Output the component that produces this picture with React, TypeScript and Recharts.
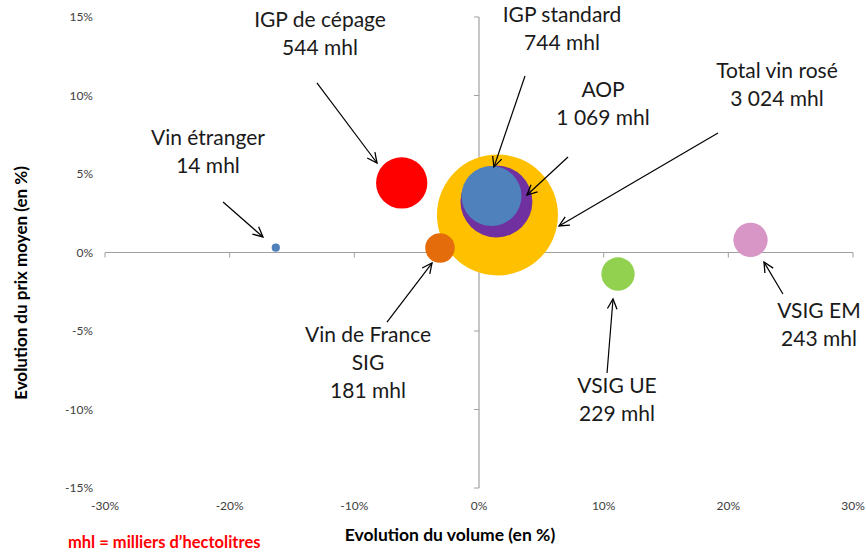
import React from 'react';
import {
  ScatterChart,
  Scatter,
  XAxis,
  YAxis,
  ZAxis,
  ReferenceLine,
  ReferenceDot,
} from 'recharts';

// ---- Data ----
const categories = [
  'Total vin rosé',
  'AOP',
  'IGP standard',
  'IGP de cépage',
  'Vin de France SIG',
  'Vin étranger',
  'VSIG UE',
  'VSIG EM',
];
const volumeEvolution = [1.48, 1.4, 1.0, -6.2, -3.13, -16.3, 11.15, 21.78];
const priceEvolution = [2.39, 3.25, 3.6, 4.43, 0.29, 0.31, -1.37, 0.8];
const volumesMhl = [3024, 1069, 744, 544, 181, 14, 229, 243];
const bubbleColors = ['#FFC000', '#7030A0', '#4F81BD', '#FF0000', '#E46C0A', '#4F81BD', '#92D050', '#D896C6'];

const xTicks = [-30, -20, -10, 0, 10, 20, 30];
const yTicks = [-15, -10, -5, 0, 5, 10, 15];

// annotation labels: text lines, anchor (centre x, first baseline) in data units
const labelLines = [
  ['Total vin rosé', '3 024 mhl'],
  ['AOP', '1 069 mhl'],
  ['IGP standard', '744 mhl'],
  ['IGP de cépage', '544 mhl'],
  ['Vin de France', 'SIG', '181 mhl'],
  ['Vin étranger', '14 mhl'],
  ['VSIG UE', '229 mhl'],
  ['VSIG EM', '243 mhl'],
];
const labelX = [23.9, 9.95, 6.66, -12.75, -8.9, -21.74, 11.07, 27.27];
const labelY = [11.11, 9.9, 14.68, 14.36, -5.7, 6.85, -8.95, -4.17];

// arrows: start -> end in data units
const arrowX1 = [19.17, 7.14, 3.69, -13.0, -7.38, -20.53, 10.27, 24.38];
const arrowY1 = [7.61, 6.08, 11.24, 10.8, -4.43, 3.22, -7.68, -2.64];
const arrowX2 = [6.42, 3.85, 1.2, -8.18, -3.77, -17.33, 10.75, 22.86];
const arrowY2 = [1.69, 3.66, 5.45, 5.7, -0.67, 0.99, -2.96, -0.61];

const RADIUS_FACTOR = 1.1; // px radius per sqrt(mhl)
const maxVol = Math.max(...volumesMhl);

const FONT = 'Lato, "Open Sans", sans-serif';

const ArrowShape = (p: any) => {
  const { x1, y1, x2, y2 } = p;
  if ([x1, y1, x2, y2].some((v) => typeof v !== 'number')) return null;
  const ang = Math.atan2(y2 - y1, x2 - x1);
  const L = 11;
  const a = 0.45;
  const ax = x2 - L * Math.cos(ang - a);
  const ay = y2 - L * Math.sin(ang - a);
  const bx = x2 - L * Math.cos(ang + a);
  const by = y2 - L * Math.sin(ang + a);
  return (
    <g>
      <line x1={x1} y1={y1} x2={x2} y2={y2} stroke="#000" strokeWidth={1.2} />
      <polyline
        points={`${ax},${ay} ${x2},${y2} ${bx},${by}`}
        fill="none"
        stroke="#000"
        strokeWidth={1.3}
      />
    </g>
  );
};

const makeLabelShape = (lines: string[]) => (p: any) => {
  const { cx, cy } = p;
  if (typeof cx !== 'number' || typeof cy !== 'number') return null;
  return (
    <text x={cx} y={cy} textAnchor="middle" fontFamily={FONT} fontSize={21} fill="#1a1a1a">
      {lines.map((l, i) => (
        <tspan key={i} x={cx} y={cy + i * 28}>
          {l}
        </tspan>
      ))}
    </text>
  );
};

const HTick = (p: any) => {
  const { cx, cy } = p;
  if (typeof cx !== 'number') return null;
  return <line x1={cx} y1={cy} x2={cx} y2={cy + 5} stroke="#A0A0A0" strokeWidth={1} />;
};
const VTick = (p: any) => {
  const { cx, cy } = p;
  if (typeof cx !== 'number') return null;
  return <line x1={cx - 5} y1={cy} x2={cx} y2={cy} stroke="#A0A0A0" strokeWidth={1} />;
};

export default function App() {
  return (
    <div style={{ position: 'absolute', left: 0, top: 0, width: 866, height: 554, background: '#fff' }}>
      <ScatterChart
        width={866}
        height={554}
        margin={{ top: 17, right: 13, bottom: 36, left: 45 }}
        style={{ fontFamily: FONT }}
      >
        <XAxis
          type="number"
          dataKey="x"
          domain={[-30, 30]}
          ticks={xTicks}
          tickFormatter={(v: number) => `${v}%`}
          axisLine={false}
          tickLine={false}
          tickSize={6}
          tickMargin={7}
          height={30}
          tick={{ fontSize: 12, fill: '#404040', fontFamily: FONT }}
          allowDataOverflow
        />
        <YAxis
          type="number"
          dataKey="y"
          domain={[-15, 15]}
          ticks={yTicks}
          tickFormatter={(v: number) => `${v}%`}
          axisLine={false}
          tickLine={false}
          tickSize={6}
          tickMargin={6}
          width={60}
          tick={{ fontSize: 12, fill: '#404040', fontFamily: FONT }}
          allowDataOverflow
        />
        <ZAxis
          type="number"
          dataKey="z"
          domain={[0, maxVol]}
          range={[0, Math.PI * RADIUS_FACTOR * RADIUS_FACTOR * maxVol]}
        />

        <ReferenceLine x={0} stroke="#A0A0A0" strokeWidth={1.2} zIndex={50} />
        <ReferenceLine y={0} stroke="#A0A0A0" strokeWidth={1.2} zIndex={50} />
        {xTicks.map((t) => (
          <ReferenceDot key={`hx${t}`} x={t} y={0} r={1} shape={HTick} zIndex={50} />
        ))}
        {yTicks.map((t) => (
          <ReferenceDot key={`vy${t}`} x={0} y={t} r={1} shape={VTick} zIndex={50} />
        ))}

        {categories.map((c, i) => (
          <Scatter
            key={c}
            name={c}
            data={[{ x: volumeEvolution[i], y: priceEvolution[i], z: volumesMhl[i] }]}
            fill={bubbleColors[i]}
            isAnimationActive={false}
          />
        ))}

        {categories.map((c, i) => (
          <ReferenceLine
            key={`ar${c}`}
            segment={[
              { x: arrowX1[i], y: arrowY1[i] },
              { x: arrowX2[i], y: arrowY2[i] },
            ]}
            shape={ArrowShape}
            zIndex={1500}
          />
        ))}
        {categories.map((c, i) => (
          <ReferenceDot
            key={`lb${c}`}
            x={labelX[i]}
            y={labelY[i]}
            r={1}
            shape={makeLabelShape(labelLines[i])}
            zIndex={1600}
          />
        ))}

        <text
          x={450}
          y={541}
          textAnchor="middle"
          fontFamily={FONT}
          fontWeight="bold"
          fontSize={17.5}
          fill="#000"
        >
          Evolution du volume (en %)
        </text>
        <text
          transform="translate(27,283) rotate(-90)"
          textAnchor="middle"
          fontFamily={FONT}
          fontWeight="bold"
          fontSize={17}
          fill="#000"
        >
          Evolution du prix moyen (en %)
        </text>
        <text x={68} y={548} fontFamily={FONT} fontWeight="bold" fontSize={16.5} fill="#FF0000">
          mhl = milliers d’hectolitres
        </text>
      </ScatterChart>
    </div>
  );
}
